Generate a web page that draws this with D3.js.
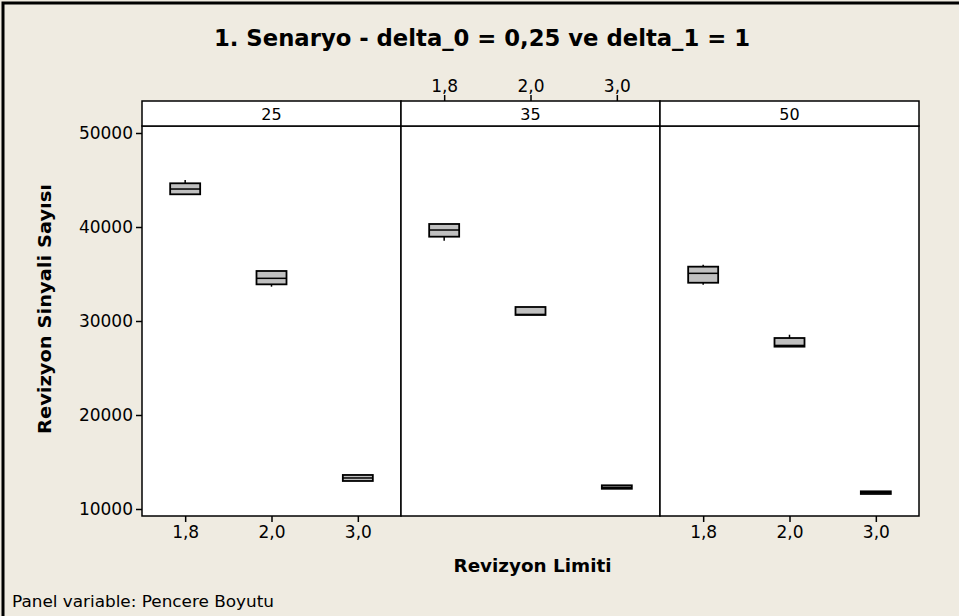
<!DOCTYPE html>
<html>
<head>
<meta charset="utf-8">
<script src="https://cdn.jsdelivr.net/npm/d3@7"></script>
<style>
  html, body { margin: 0; padding: 0; background: #efebe1; }
  svg { display: block; font-family: "DejaVu Sans", sans-serif; }
</style>
</head>
<body>
<svg id="chart" width="959" height="616"></svg>
<script>
// panel variable (Pencere Boyutu) and x categories (Revizyon Limiti)
const windows = ['25', '35', '50'];
const limits = ['1,8', '2,0', '3,0'];
const yTicks = [10000, 20000, 30000, 40000, 50000];

// box summaries per panel: [min, q1, median, q3, max], one per limit
const stats25 = [
  [43480, 43480, 44040, 44650, 45000],
  [33650, 33900, 34540, 35320, 35320],
  [12980, 12980, 13300, 13620, 13620]
];
const stats35 = [
  [38540, 38970, 39680, 40320, 40320],
  [30640, 30640, 30700, 31490, 31490],
  [12150, 12150, 12300, 12520, 12520]
];
const stats50 = [
  [33860, 34070, 35070, 35780, 35990],
  [27270, 27270, 27400, 28190, 28540],
  [11600, 11600, 11750, 11880, 11880]
];
const panelStats = [stats25, stats35, stats50];

const svg = d3.select('#chart');
const W = 959, H = 616;
const plot = { left: 142, right: 919, top: 126, bottom: 516, strip: 25 };

// outer frame (runs off the right and bottom edges like the source)
svg.append('rect')
  .attr('x', 3).attr('y', 3)
  .attr('width', W + 10).attr('height', H + 10)
  .attr('fill', '#efebe1')
  .attr('stroke', '#000').attr('stroke-width', 3);

svg.append('text')
  .attr('x', 482).attr('y', 46)
  .attr('text-anchor', 'middle')
  .attr('font-size', 23).attr('font-weight', 700)
  .attr('textLength', 536).attr('lengthAdjust', 'spacingAndGlyphs')
  .text('1. Senaryo - delta_0 = 0,25 ve delta_1 = 1');

const panelX = d3.scaleBand()
  .domain(windows)
  .range([plot.left, plot.right]);

const y = d3.scaleLinear()
  .domain([9255, 50745])
  .range([plot.bottom, plot.top]);

// panel backgrounds and strips
const panels = svg.selectAll('g.panel')
  .data(windows)
  .join('g')
  .attr('class', 'panel')
  .attr('transform', d => `translate(${panelX(d)},0)`);

panels.append('rect')
  .attr('y', plot.top)
  .attr('width', panelX.bandwidth())
  .attr('height', plot.bottom - plot.top)
  .attr('fill', '#fff')
  .attr('stroke', '#000').attr('stroke-width', 1.5);

panels.append('rect')
  .attr('y', plot.top - plot.strip)
  .attr('width', panelX.bandwidth())
  .attr('height', plot.strip)
  .attr('fill', '#fff')
  .attr('stroke', '#000').attr('stroke-width', 1.5);

panels.append('text')
  .attr('x', panelX.bandwidth() / 2)
  .attr('y', plot.top - 6)
  .attr('text-anchor', 'middle')
  .attr('font-size', 16)
  .text(d => d);

const boxW = 30;

panels.each(function (w, i) {
  const g = d3.select(this);
  const x = d3.scalePoint()
    .domain(limits)
    .range([0, panelX.bandwidth()])
    .padding(0.5);
  const data = panelStats[i].map((s, j) => ({ limit: limits[j], s }));

  const box = g.selectAll('g.box')
    .data(data)
    .join('g')
    .attr('class', 'box')
    .attr('transform', d => `translate(${x(d.limit)},0)`);

  // whiskers
  box.append('line')
    .attr('y1', d => y(d.s[0])).attr('y2', d => y(d.s[1]))
    .attr('stroke', '#000').attr('stroke-width', 1.5);
  box.append('line')
    .attr('y1', d => y(d.s[3])).attr('y2', d => y(d.s[4]))
    .attr('stroke', '#000').attr('stroke-width', 1.5);

  box.append('rect')
    .attr('x', -boxW / 2)
    .attr('y', d => y(d.s[3]))
    .attr('width', boxW)
    .attr('height', d => y(d.s[1]) - y(d.s[3]))
    .attr('fill', '#c0c0c0')
    .attr('stroke', '#000').attr('stroke-width', 1.8);

  box.append('line')
    .attr('x1', -boxW / 2).attr('x2', boxW / 2)
    .attr('y1', d => y(d.s[2])).attr('y2', d => y(d.s[2]))
    .attr('stroke', '#000').attr('stroke-width', 1.5);

  // alternating x axes: bottom for outer panels, top for the middle
  if (i === 1) {
    g.append('g')
      .attr('transform', `translate(0,${plot.top - plot.strip})`)
      .call(d3.axisTop(x).tickSize(6).tickPadding(3))
      .call(a => a.select('.domain').remove());
  } else {
    g.append('g')
      .attr('transform', `translate(0,${plot.bottom})`)
      .call(d3.axisBottom(x).tickSize(6).tickPadding(4))
      .call(a => a.select('.domain').remove());
  }
});

svg.append('g')
  .attr('transform', `translate(${plot.left},0)`)
  .call(d3.axisLeft(y).tickValues(yTicks).tickFormat(d3.format('d')).tickSize(6).tickPadding(3))
  .call(a => a.select('.domain').remove());

svg.selectAll('.tick text')
  .attr('font-size', 17)
  .attr('font-family', '"DejaVu Sans", sans-serif')
  .attr('fill', '#000');
svg.selectAll('.tick line').attr('stroke', '#000').attr('stroke-width', 1.5);

svg.append('text')
  .attr('transform', `translate(51,${(plot.top + plot.bottom) / 2 - 12}) rotate(-90)`)
  .attr('text-anchor', 'middle')
  .attr('font-size', 17).attr('font-weight', 700)
  .attr('textLength', 250).attr('lengthAdjust', 'spacingAndGlyphs')
  .text('Revizyon Sinyali Sayısı');

svg.append('text')
  .attr('x', (plot.left + plot.right) / 2 + 2).attr('y', 572)
  .attr('text-anchor', 'middle')
  .attr('font-size', 18).attr('font-weight', 700)
  .attr('textLength', 158).attr('lengthAdjust', 'spacingAndGlyphs')
  .text('Revizyon Limiti');

svg.append('text')
  .attr('x', 12).attr('y', 607)
  .attr('font-size', 16)
  .attr('textLength', 262).attr('lengthAdjust', 'spacingAndGlyphs')
  .text('Panel variable: Pencere Boyutu');
</script>
</body>
</html>
